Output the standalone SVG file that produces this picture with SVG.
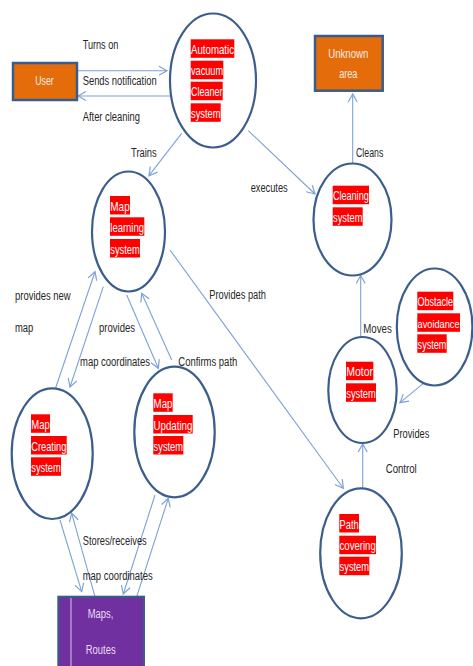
<svg xmlns="http://www.w3.org/2000/svg" width="473" height="666" viewBox="0 0 473 666">
<defs>
<style>
.ell{fill:#fff;stroke:#3B5E8C;stroke-width:2.2}
.box{fill:#E46C0A;stroke:#385D8A;stroke-width:2.5}
.hl{fill:#FF0000}
.rt{font-family:"Liberation Sans",Arial,sans-serif;font-size:13px;fill:#fff}
.lb{font-family:"Liberation Sans",Arial,sans-serif;font-size:12px;fill:#262626}
.wt{font-family:"Liberation Sans",Arial,sans-serif;font-size:12.5px;fill:#F4EDE8;text-anchor:middle}
.cn line{stroke:#7DA2D5;stroke-width:1.1;marker-end:url(#ah)}
</style>
<marker id="ah" markerUnits="userSpaceOnUse" markerWidth="14" markerHeight="14" refX="9" refY="6" orient="auto">
<path d="M1,1.5 L9,6 L1,10.5" fill="none" stroke="#7DA2D5" stroke-width="1.2"/>
</marker>
</defs>
<rect width="473" height="666" fill="#fff"/>

<g id="connectors" class="cn">
<line x1="77" y1="70.7" x2="167" y2="70.7"/>
<line x1="170" y1="96" x2="78" y2="96"/>
<line x1="181.7" y1="133.3" x2="149" y2="175.7"/>
<line x1="248.3" y1="130.7" x2="315" y2="194"/>
<line x1="352.7" y1="163" x2="352.7" y2="94"/>
<line x1="170" y1="250" x2="343.3" y2="488.3"/>
<line x1="126.7" y1="295" x2="158.3" y2="368.3"/>
<line x1="171.7" y1="360" x2="141.7" y2="293.3"/>
<line x1="55.6" y1="388" x2="95" y2="271.7"/>
<line x1="103.3" y1="286.7" x2="70" y2="387"/>
<line x1="60" y1="520" x2="81.7" y2="591.7"/>
<line x1="95" y1="596.7" x2="71.7" y2="513.3"/>
<line x1="155" y1="495" x2="123.3" y2="594"/>
<line x1="136.7" y1="596.7" x2="168.3" y2="498.3"/>
<line x1="360.7" y1="337" x2="360.7" y2="275.5"/>
<line x1="423.3" y1="383.3" x2="400" y2="402.7"/>
<line x1="362.7" y1="488" x2="362.7" y2="444"/>
</g>

<g id="labels">
<text class="lb" x="82.7" y="49" textLength="35.7" lengthAdjust="spacingAndGlyphs">Turns on</text>
<text class="lb" x="82.7" y="85" textLength="74" lengthAdjust="spacingAndGlyphs">Sends notification</text>
<text class="lb" x="82.7" y="121" textLength="57.3" lengthAdjust="spacingAndGlyphs">After cleaning</text>
<text class="lb" x="131" y="156.5" textLength="25.7" lengthAdjust="spacingAndGlyphs">Trains</text>
<text class="lb" x="250.7" y="192" textLength="37" lengthAdjust="spacingAndGlyphs">executes</text>
<text class="lb" x="356" y="157" textLength="27.3" lengthAdjust="spacingAndGlyphs">Cleans</text>
<text class="lb" x="15" y="299.5" textLength="55.7" lengthAdjust="spacingAndGlyphs">provides new</text>
<text class="lb" x="15" y="332" textLength="18.3" lengthAdjust="spacingAndGlyphs">map</text>
<text class="lb" x="99" y="332" textLength="36" lengthAdjust="spacingAndGlyphs">provides</text>
<text class="lb" x="80" y="365.5" textLength="70" lengthAdjust="spacingAndGlyphs">map coordinates</text>
<text class="lb" x="178.3" y="365.5" textLength="59" lengthAdjust="spacingAndGlyphs">Confirms path</text>
<text class="lb" x="209.3" y="299" textLength="56.7" lengthAdjust="spacingAndGlyphs">Provides path</text>
<text class="lb" x="363.3" y="332.5" textLength="28.4" lengthAdjust="spacingAndGlyphs">Moves</text>
<text class="lb" x="393.3" y="437.5" textLength="36" lengthAdjust="spacingAndGlyphs">Provides</text>
<text class="lb" x="385.7" y="473" textLength="31" lengthAdjust="spacingAndGlyphs">Control</text>
<text class="lb" x="82.7" y="545" textLength="64" lengthAdjust="spacingAndGlyphs">Stores/receives</text>
<text class="lb" x="82.7" y="579.5" textLength="70" lengthAdjust="spacingAndGlyphs">map coordinates</text>
</g>

<g id="user">
<rect class="box" x="13" y="63" width="64" height="37"/>
<text class="wt" x="44.5" y="84.5" textLength="18.3" lengthAdjust="spacingAndGlyphs">User</text>
</g>

<g id="unknown-area">
<rect class="box" x="315" y="36" width="67.7" height="54.7"/>
<text class="wt" x="348.3" y="57.5" textLength="40" lengthAdjust="spacingAndGlyphs">Unknown</text>
<text class="wt" x="348.3" y="78" textLength="18.3" lengthAdjust="spacingAndGlyphs">area</text>
</g>

<g id="maps-routes">
<rect x="58.3" y="596.7" width="85.7" height="80" fill="#7030A0" stroke="#385D8A" stroke-width="2"/>
<line x1="71" y1="598" x2="71" y2="666" stroke="#B596D6" stroke-width="1.5"/>
<text class="wt" x="100.5" y="617.5" textLength="25.7" lengthAdjust="spacingAndGlyphs" style="fill:#E8DDF2">Maps,</text>
<text class="wt" x="100.7" y="653.5" textLength="30" lengthAdjust="spacingAndGlyphs" style="fill:#E8DDF2">Routes</text>
</g>

<g id="automatic-vacuum">
<ellipse class="ell" cx="213" cy="80.5" rx="43" ry="67"/>
<rect class="hl" x="190.7" y="39.3" width="43.6" height="18.5"/>
<rect class="hl" x="190.7" y="60.7" width="32.6" height="18.5"/>
<rect class="hl" x="190.7" y="81.7" width="32" height="18.5"/>
<rect class="hl" x="190.7" y="103.3" width="30" height="18.5"/>
<text class="rt" x="191" y="54" textLength="43" lengthAdjust="spacingAndGlyphs">Automatic</text>
<text class="rt" x="191" y="75.4" textLength="32" lengthAdjust="spacingAndGlyphs">vacuum</text>
<text class="rt" x="191" y="96.4" textLength="31.4" lengthAdjust="spacingAndGlyphs">Cleaner</text>
<text class="rt" x="191" y="118" textLength="29.4" lengthAdjust="spacingAndGlyphs">system</text>
</g>

<g id="map-learning">
<ellipse class="ell" cx="128.5" cy="231.5" rx="36.5" ry="60"/>
<rect class="hl" x="110" y="196" width="20" height="18.5"/>
<rect class="hl" x="110" y="217.3" width="34.3" height="18.5"/>
<rect class="hl" x="110" y="239" width="30" height="18.5"/>
<text class="rt" x="110.3" y="210.7" textLength="19.4" lengthAdjust="spacingAndGlyphs">Map</text>
<text class="rt" x="110.3" y="232" textLength="33.7" lengthAdjust="spacingAndGlyphs">learning</text>
<text class="rt" x="110.3" y="253.7" textLength="29.4" lengthAdjust="spacingAndGlyphs">system</text>
</g>

<g id="map-creating">
<ellipse class="ell" cx="52.2" cy="453.7" rx="40.5" ry="65.3"/>
<rect class="hl" x="31" y="414.3" width="19" height="18.5"/>
<rect class="hl" x="31" y="436" width="35.7" height="18.5"/>
<rect class="hl" x="31" y="457.3" width="30" height="18.5"/>
<text class="rt" x="31.3" y="429" textLength="18.4" lengthAdjust="spacingAndGlyphs">Map</text>
<text class="rt" x="31.3" y="450.7" textLength="35" lengthAdjust="spacingAndGlyphs">Creating</text>
<text class="rt" x="31.3" y="472" textLength="29.4" lengthAdjust="spacingAndGlyphs">system</text>
</g>

<g id="map-updating">
<ellipse class="ell" cx="174.5" cy="432" rx="40.2" ry="65.3"/>
<rect class="hl" x="153.3" y="393.3" width="19.4" height="18.5"/>
<rect class="hl" x="153.3" y="415" width="39.4" height="18.5"/>
<rect class="hl" x="153.3" y="436" width="30" height="18.5"/>
<text class="rt" x="153.6" y="408" textLength="18.8" lengthAdjust="spacingAndGlyphs">Map</text>
<text class="rt" x="153.6" y="429.7" textLength="38.8" lengthAdjust="spacingAndGlyphs">Updating</text>
<text class="rt" x="153.6" y="450.7" textLength="29.4" lengthAdjust="spacingAndGlyphs">system</text>
</g>

<g id="cleaning">
<ellipse class="ell" cx="352.5" cy="219.5" rx="39" ry="56"/>
<rect class="hl" x="332.7" y="185.7" width="36.3" height="18.5"/>
<rect class="hl" x="332.7" y="207.3" width="30" height="18.5"/>
<text class="rt" x="333" y="200.4" textLength="35.7" lengthAdjust="spacingAndGlyphs">Cleaning</text>
<text class="rt" x="333" y="222" textLength="29.4" lengthAdjust="spacingAndGlyphs">system</text>
</g>

<g id="obstacle-avoidance">
<ellipse class="ell" cx="434.6" cy="327" rx="37.8" ry="58.5"/>
<rect class="hl" x="417.3" y="291.7" width="36" height="18.5"/>
<rect class="hl" x="417.3" y="313.3" width="42.7" height="18.5"/>
<rect class="hl" x="417.3" y="334.3" width="29.4" height="18.5"/>
<text class="rt" x="417.6" y="306.4" textLength="35.4" lengthAdjust="spacingAndGlyphs">Obstacle</text>
<text class="rt" x="417.6" y="328" textLength="42" lengthAdjust="spacingAndGlyphs" style="font-size:11.5px">avoidance</text>
<text class="rt" x="417.6" y="349" textLength="28.8" lengthAdjust="spacingAndGlyphs">system</text>
</g>

<g id="motor">
<ellipse class="ell" cx="362.5" cy="390" rx="34.2" ry="53"/>
<rect class="hl" x="346" y="361.7" width="27.3" height="18.5"/>
<rect class="hl" x="346" y="383.3" width="30" height="18.5"/>
<text class="rt" x="346.3" y="376.4" textLength="26.7" lengthAdjust="spacingAndGlyphs">Motor</text>
<text class="rt" x="346.3" y="398" textLength="29.4" lengthAdjust="spacingAndGlyphs">system</text>
</g>

<g id="path-covering">
<ellipse class="ell" cx="361" cy="553.3" rx="40.8" ry="65"/>
<rect class="hl" x="339.3" y="514" width="19.7" height="18.5"/>
<rect class="hl" x="339.3" y="535.7" width="36.7" height="18.5"/>
<rect class="hl" x="339.3" y="556.7" width="30" height="18.5"/>
<text class="rt" x="339.6" y="528.7" textLength="19.1" lengthAdjust="spacingAndGlyphs">Path</text>
<text class="rt" x="339.6" y="550.4" textLength="36.1" lengthAdjust="spacingAndGlyphs">covering</text>
<text class="rt" x="339.6" y="571.4" textLength="29.4" lengthAdjust="spacingAndGlyphs">system</text>
</g>
</svg>
